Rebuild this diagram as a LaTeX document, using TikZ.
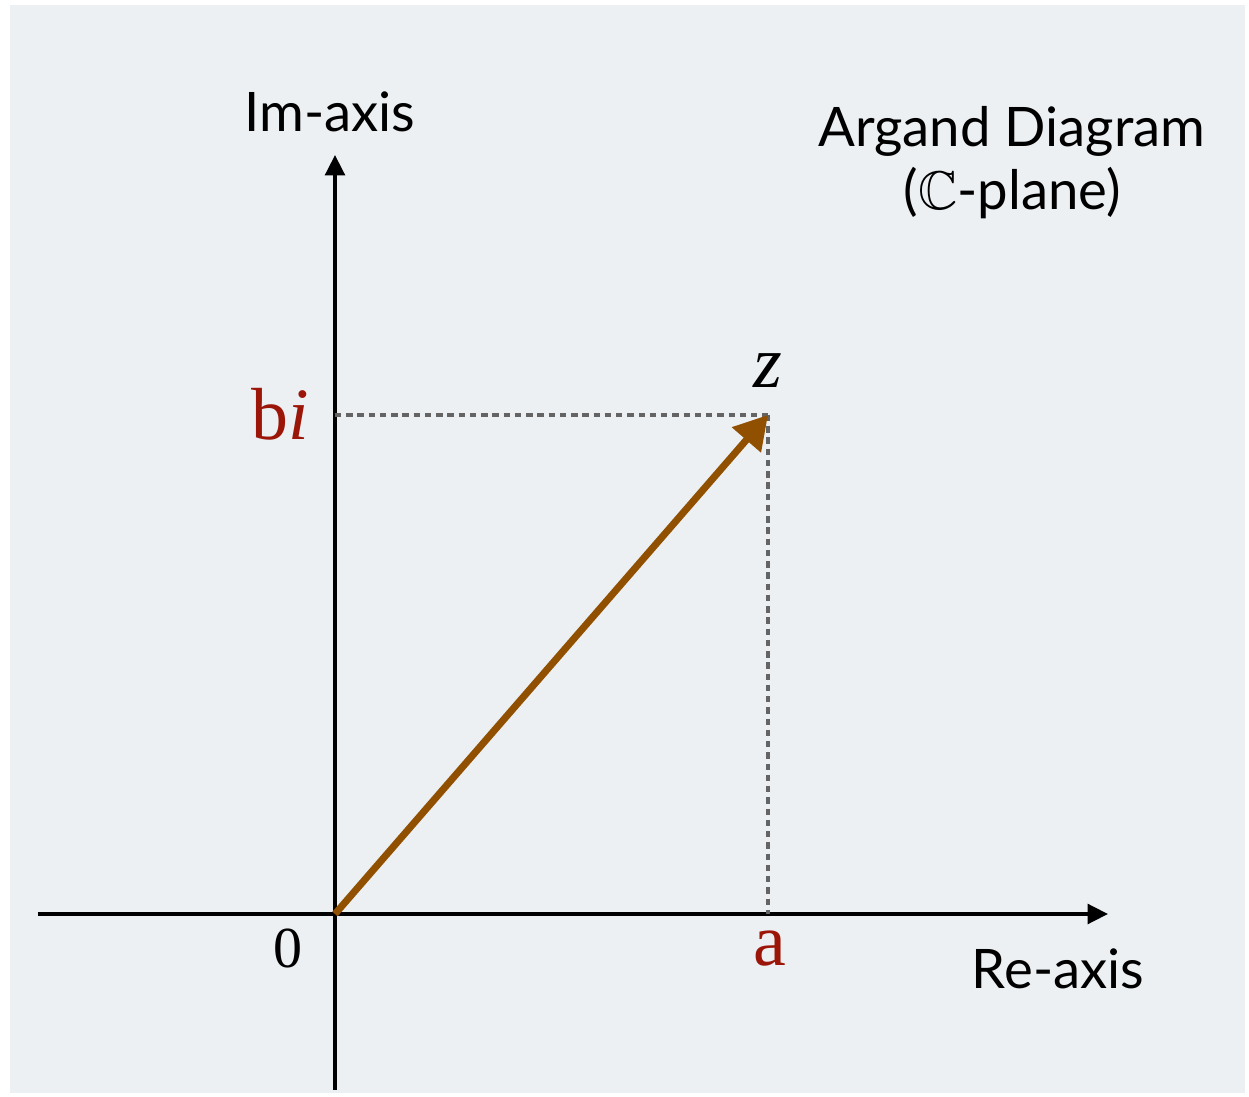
\documentclass[tikz,border=0pt]{standalone}
\usepackage{amssymb}
\usepackage{fontspec}
\usepackage{tikz}
\usetikzlibrary{arrows.meta}
\newfontfamily\gillfont{Lato}
\newfontfamily\timesfont{Liberation Serif}
\definecolor{CBG}{RGB}{236,240,243}
\definecolor{CR}{RGB}{155, 22,  8}
\definecolor{CB}{RGB}{145, 80,  0}
\definecolor{CG}{RGB}{100,100,100}

\begin{document}
\begin{tikzpicture}[
    sanslabel/.style={font=\gillfont\fontsize{15.5}{18}\selectfont, inner sep=0pt, anchor=base},
    seriflabel/.style={font=\timesfont\fontsize{21}{24}\selectfont, inner sep=0pt, anchor=base},
    axis/.style={line width=1pt, -{Triangle[length=5.8pt, width=5.6pt]}},
    guide/.style={CG, line width=1pt, dash pattern=on 1.8pt off 1.4pt}]
    %% canvas
    \useasboundingbox (-3.35,-1.82) rectangle (9.14,9.14);
    \fill[CBG] (-3.25,-1.79) rectangle (9.10,9.09);
    %% axis end points
    \coordinate (O)  at (0.0, 0.0);
    \coordinate (Xl) at (-2.97, 0.0);
    \coordinate (Xr) at (7.73, 0.0);
    \coordinate (Yb) at (0.0, -1.76);
    \coordinate (Yt) at (0.0, 7.59);
    %% z and its projections
    \coordinate (Z) at (4.33, 4.99);
    \coordinate (A) at (4.33, 0.0);
    \coordinate (B) at (0.0, 4.99);
    %% axes
    \draw[axis] (Xl) -- (Xr);
    \draw[axis] (Yb) -- (Yt);
    %% dashed guides
    \draw[guide] (B) -- (Z);
    \draw[guide] (Z) -- (A);
    %% vector z
    \draw[CB, line width=2pt, -{Triangle[length=9.4pt, width=10.5pt]}] (O) -- (Z);
    %% axis labels
    \node[sanslabel] (imlabel) at (-0.05, 7.82) {Im-axis};
    \node[sanslabel] (relabel) at (7.23, -0.74) {Re-axis};
    %% title
    \node[sanslabel] (title)    at (6.77, 7.67) {Argand Diagram};
    \node[sanslabel] (subtitle) at (6.77, 7.04) {($\mathbb{C}$-plane)};
    %% point labels
    \node[seriflabel, font=\timesfont\fontsize{16.5}{20}\selectfont] (zero) at (-0.47, -0.53) {0};
    \node[seriflabel, CR] (alabel) at (4.35, -0.51) {a};
    \node[seriflabel, CR, anchor=base east] (blabel) at (-0.25, 4.74) {b\itshape i};
    \node[seriflabel] (zlabel) at (4.33, 5.26) {\itshape z};
\end{tikzpicture}
\end{document}
